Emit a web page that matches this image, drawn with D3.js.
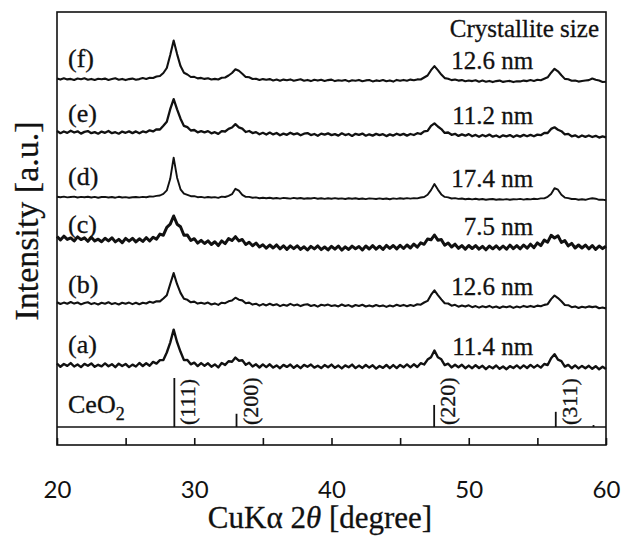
<!DOCTYPE html>
<html>
<head>
<meta charset="utf-8">
<script src="https://cdn.jsdelivr.net/npm/d3@7"></script>
<style>
  body { margin: 0; background: #fff; }
  .serif { font-family: "Liberation Serif", "Times New Roman", serif; fill: #111; stroke: #111; stroke-width: 0.3px; }
</style>
</head>
<body>
<svg id="chart" width="626" height="540"></svg>
<script>

// scan grid, 2theta in degree
var twoTheta = [20,20.25,20.5,20.75,21,21.25,21.5,21.75,22,22.25,22.5,22.75,23,23.25,23.5,23.75,24,24.25,24.5,24.75,
    25,25.25,25.5,25.75,26,26.25,26.5,26.75,27,27.25,27.5,27.75,28,28.25,28.5,28.75,29,29.25,29.5,29.75,
    30,30.25,30.5,30.75,31,31.25,31.5,31.75,32,32.25,32.5,32.75,33,33.25,33.5,33.75,34,34.25,34.5,34.75,
    35,35.25,35.5,35.75,36,36.25,36.5,36.75,37,37.25,37.5,37.75,38,38.25,38.5,38.75,39,39.25,39.5,39.75,
    40,40.25,40.5,40.75,41,41.25,41.5,41.75,42,42.25,42.5,42.75,43,43.25,43.5,43.75,44,44.25,44.5,44.75,
    45,45.25,45.5,45.75,46,46.25,46.5,46.75,47,47.25,47.5,47.75,48,48.25,48.5,48.75,49,49.25,49.5,49.75,
    50,50.25,50.5,50.75,51,51.25,51.5,51.75,52,52.25,52.5,52.75,53,53.25,53.5,53.75,54,54.25,54.5,54.75,
    55,55.25,55.5,55.75,56,56.25,56.5,56.75,57,57.25,57.5,57.75,58,58.25,58.5,58.75,59,59.25,59.5,59.75,60];

// intensities (a.u.) of each sample
var intA = [45,12,40,21,49,15,35,9,41,23,46,12,32,16,46,18,38,8,43,20,40,9,34,15,
    50,20,48,23,61,44,79,80,155,254,384,258,162,79,81,37,54,19,49,23,47,13,36,6,
    50,31,68,63,104,73,77,33,53,15,37,5,
    36,9,37,4,26,-2,31,11,34,2,27,-2,31,12,34,4,22,-1,29,7,34,2,24,-4,26,8,34,-1,24,1,30,4,27,-6,20,1,30,-2,
    29,-1,31,7,36,7,37,10,48,35,84,108,175,107,87,29,43,6,33,7,32,-2,24,-2,28,0,22,-12,18,-2,25,-8,15,-12,19,0,
    26,-3,26,0,31,4,29,4,40,30,98,138,83,68,14,31,-2,26,-4,21,-3,22,-8,18,-13,13,-9];
var intB = [58,40,54,42,60,44,55,36,50,57,39,49,35,52,43,57,39,49,35,52,42,54,
    39,53,37,52,45,62,52,68,66,95,128,240,349,238,151,92,82,57,64,44,53,43,54,35,46,31,
    53,48,67,75,103,83,76,48,54,34,43,24,
    39,26,42,27,38,19,33,23,41,26,35,19,32,37,20,30,14,32,24,34,20,28,16,35,20,29,13,30,21,32,15,26,15,30,18,26,11,25,
    16,32,21,31,17,30,21,38,33,55,71,131,176,129,86,47,45,23,32,13,25,14,27,8,19,4,18,8,21,4,15,0,16,7,17,1,
    15,6,21,10,21,10,24,17,31,38,89,125,99,67,30,28,8,16,0,13,4,16,9,15,-3,5,-5];
var intC = [115,81,118,86,101,70,111,84,101,67,108,71,88,63,97,71,102,61,86,53,
    96,69,97,61,92,66,103,70,108,89,139,128,207,238,320,238,212,128,129,75,93,49,77,45,71,35,62,24,
    71,44,94,75,113,71,85,35,58,23,49,10,32,-2,30,0,31,-8,22,-14,21,-6,22,-14,12,
    -20,16,-9,21,-16,10,-19,17,-12,20,-21,11,-15,19,-7,15,-20,20,-10,24,-11,18,-14,26,-4,25,
    -9,26,-5,30,0,39,8,52,37,90,82,130,78,84,28,50,10,38,-3,24,-11,25,-5,24,-11,16,-18,20,-8,22,-12,20,-12,29,
    -6,24,-8,30,-2,38,4,51,24,79,58,127,100,122,56,74,21,46,0,30,0,29,-8,25,-14,20,-6,18];
var intD = [33,28,34,26,30,34,25,31,27,32,25,31,23,30,31,25,30,23,32,25,29,23,28,30,
    26,31,28,35,34,41,45,62,96,212,424,223,107,63,51,38,38,28,31,24,30,25,29,21,
    34,30,42,58,112,93,51,31,31,23,26,18,23,17,22,15,20,14,21,18,14,21,15,20,12,18,15,21,13,18,11,18,13,19,12,16,10,17,13,18,10,15,9,16,14,10,16,10,15,8,
    16,11,18,13,19,14,19,16,25,30,52,99,160,104,56,31,26,15,19,11,15,7,13,6,13,5,10,3,8,10,3,8,4,9,2,8,6,11,4,10,
    6,12,9,16,16,32,59,118,103,52,24,19,10,11,3,7,2,11,17,13,2,4,-2];
var intE = [60,38,55,41,63,45,57,34,51,59,38,49,33,54,42,60,38,48,33,54,42,56,
    39,56,37,56,47,67,56,77,75,113,153,278,379,277,183,111,98,65,70,47,58,47,59,37,48,31,
    59,55,81,95,129,97,84,50,60,39,49,27,42,
    24,44,26,40,17,34,22,43,26,37,17,33,39,19,30,12,34,23,36,19,29,14,37,19,30,11,32,21,34,13,27,14,31,18,28,9,26,
    14,33,19,31,14,30,20,38,30,56,62,111,136,105,79,41,45,22,32,11,26,13,29,7,21,2,20,7,24,3,15,-2,17,6,19,-1,
    17,4,21,7,21,7,24,18,40,40,81,97,73,58,27,31,7,17,-2,15,2,15,0,12,-6,6,-3];
var intF = [35,24,37,26,31,20,35,27,37,23,31,20,32,27,34,21,29,37,23,31,19,29,34,23,
    29,39,30,43,40,55,60,90,140,269,414,279,159,92,75,50,51,36,41,31,38,25,31,25,
    43,45,65,90,128,112,83,51,47,30,33,20,29,22,29,
    16,24,12,24,17,26,12,20,27,13,21,9,23,14,23,11,19,24,9,17,12,20,6,18,13,21,8,16,20,6,16,10,20,7,16,4,
    21,12,21,13,24,18,26,25,45,65,118,159,118,74,39,33,19,25,14,19,7,15,9,
    17,3,14,3,11,-1,9,14,1,7,11,-1,7,
    6,14,9,19,11,22,17,32,47,93,132,107,67,31,27,12,15,4,10,15,19,35,22,15,0,3];

var sampleNames = ['(a)', '(b)', '(c)', '(d)', '(e)', '(f)'];
var crystalliteSizes = ['11.4 nm', '12.6 nm', '7.5 nm', '17.4 nm', '11.2 nm', '12.6 nm'];
var stackOffsets = [770, 1370, 1970, 2450, 3080, 3630];   // vertical shift of each pattern (a.u.)
var patterns = [intA, intB, intC, intD, intE, intF];

// CeO2 reference pattern
var refPeaks = [28.55, 33.08, 47.48, 56.34, 59.09];
var refIntensity = [100, 27, 45, 31, 4];
var refLabels = ['(111)', '(200)', '(220)', '(311)', ''];

var xTicks = [20, 25, 30, 35, 40, 45, 50, 55, 60];
var xTickLabels = [20, 30, 40, 50, 60];
//-------------------------------------------------------------------------------------------------------------------------

var svg = d3.select('#chart');
var margin = {top: 12, left: 57, bottom: 95, right: 20};
var width = 626, height = 540;
var plotBottom = height - margin.bottom;   // 445
var refBase = plotBottom - 18;             // inner line for the reference sticks

// noisier scans look like a thicker band
var traceWidth = [2.4, 2.1, 3.0, 1.9, 2.3, 2.1];

var x = d3.scaleLinear().domain([20, 60]).range([margin.left, width - margin.right]);
var y = d3.scaleLinear().domain([0, 4330]).range([plotBottom, margin.top]);
var yRef = d3.scaleLinear().domain([0, 100]).range([refBase, refBase - 49]);

// patterns
var line = d3.line()
    .x(function(d, i) { return x(twoTheta[i]); })
    .y(function(d) { return y(d.v); });

svg.append('g').selectAll('path')
    .data(patterns)
  .enter().append('path')
    .attr('fill', 'none')
    .attr('stroke', '#111')
    .attr('stroke-width', function(p, k) { return traceWidth[k]; })
    .attr('stroke-linejoin', 'round')
    .attr('d', function(p, k) {
        return line(p.map(function(v) { return {v: v + stackOffsets[k]}; }));
    });

// sample labels and crystallite sizes
svg.append('g').selectAll('text')
    .data(sampleNames)
  .enter().append('text')
    .attr('class', 'serif')
    .attr('x', x(20) + 11)
    .attr('y', function(d, k) { return y(stackOffsets[k]) - 15; })
    .attr('font-size', '26px')
    .text(function(d) { return d; });

svg.append('g').selectAll('text')
    .data(crystalliteSizes)
  .enter().append('text')
    .attr('class', 'serif')
    .attr('x', x(54.7))
    .attr('y', function(d, k) { return y(stackOffsets[k]) - 13; })
    .attr('text-anchor', 'end')
    .attr('font-size', '25px')
    .text(function(d) { return d; });

svg.append('text')
    .attr('class', 'serif')
    .attr('x', width - margin.right - 7)
    .attr('y', 37)
    .attr('text-anchor', 'end')
    .attr('font-size', '25px')
    .text('Crystallite size');

// reference sticks
svg.append('g').selectAll('line')
    .data(refPeaks)
  .enter().append('line')
    .attr('x1', function(d) { return x(d); })
    .attr('x2', function(d) { return x(d); })
    .attr('y1', yRef(0))
    .attr('y2', function(d, i) { return yRef(refIntensity[i]); })
    .attr('stroke', '#111')
    .attr('stroke-width', 1.8);

svg.append('g').selectAll('text')
    .data(refPeaks)
  .enter().append('text')
    .attr('class', 'serif')
    .attr('transform', function(d) { return 'translate(' + (x(d) + 21) + ',' + (refBase - 2) + ') rotate(-90)'; })
    .attr('font-size', '22px')
    .text(function(d, i) { return refLabels[i]; });

var ceo2 = svg.append('text')
    .attr('class', 'serif')
    .attr('x', x(20) + 11)
    .attr('y', refBase - 14)
    .attr('font-size', '26px');
ceo2.append('tspan').text('CeO');
ceo2.append('tspan').attr('font-size', '18px').attr('dy', 7).text('2');

// frame + inner line
svg.append('rect')
    .attr('x', margin.left).attr('y', margin.top)
    .attr('width', x(60) - x(20)).attr('height', plotBottom - margin.top)
    .attr('fill', 'none').attr('stroke', '#111').attr('stroke-width', 1.6);

svg.append('line')
    .attr('x1', margin.left).attr('x2', x(60))
    .attr('y1', refBase).attr('y2', refBase)
    .attr('stroke', '#111').attr('stroke-width', 1.6);

// x axis
var xAxis = svg.append('g')
    .attr('transform', 'translate(0,' + plotBottom + ')')
    .call(d3.axisBottom(x)
        .tickValues(xTicks)
        .tickSizeInner(-7)
        .tickSizeOuter(0)
        .tickPadding(36)
        .tickFormat(function(d) { return xTickLabels.indexOf(d) >= 0 ? d : ''; }));

xAxis.select('.domain').remove();
xAxis.selectAll('line').attr('stroke', '#111').attr('stroke-width', 1.6);
xAxis.selectAll('text')
    .attr('font-family', 'Lato, "Noto Sans", sans-serif')
    .attr('font-size', '24px')
    .attr('fill', '#111');

// axis titles
var xTitle = svg.append('text')
    .attr('class', 'serif')
    .attr('x', 320)
    .attr('y', 528)
    .attr('text-anchor', 'middle')
    .attr('font-size', '31px');
xTitle.append('tspan').text('CuKα 2');
xTitle.append('tspan').attr('font-style', 'italic').text('θ');
xTitle.append('tspan').text(' [degree]');

svg.append('text')
    .attr('class', 'serif')
    .attr('transform', 'translate(38,221) rotate(-90)')
    .attr('text-anchor', 'middle')
    .attr('font-size', '34px')
    .text('Intensity [a.u.]');

</script>
</body>
</html>
